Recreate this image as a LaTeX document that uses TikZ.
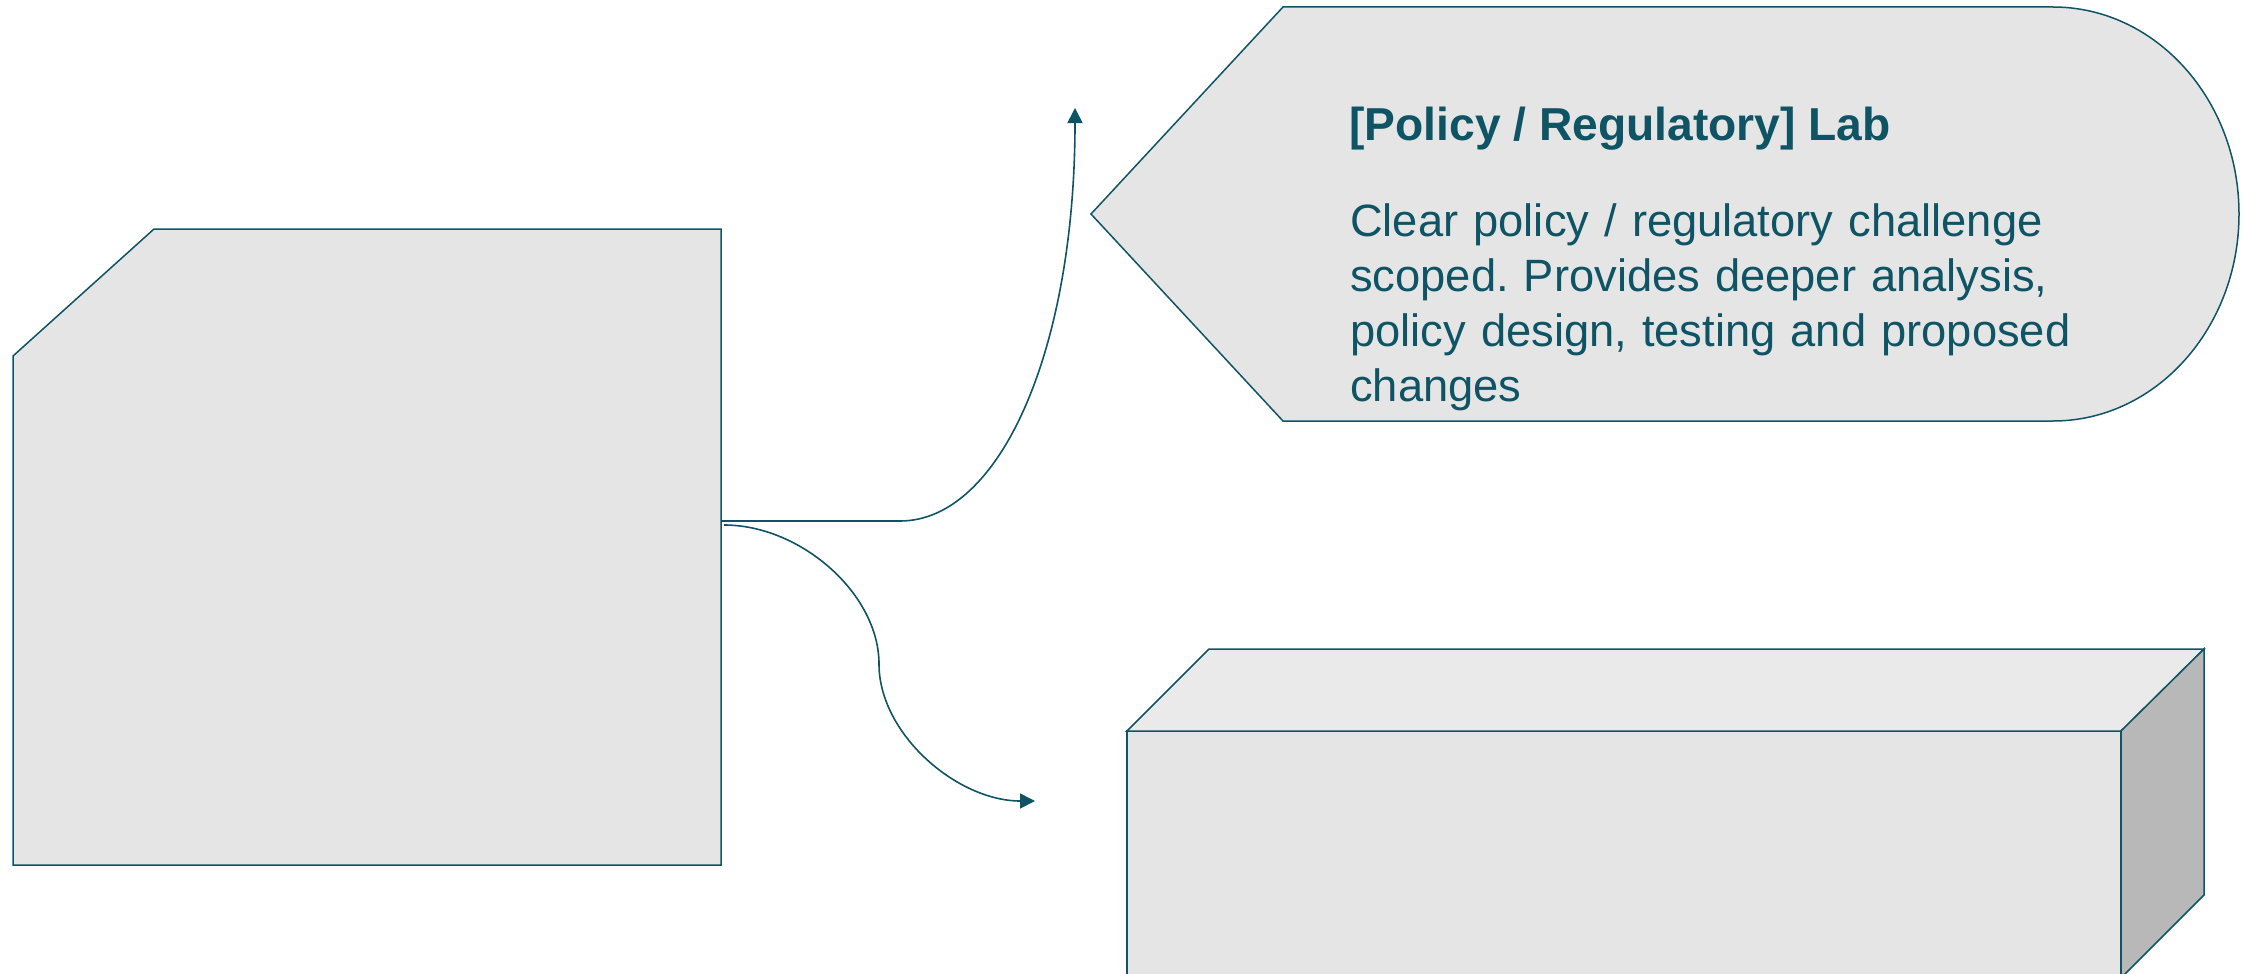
\documentclass[tikz,border=0pt]{standalone}
\usepackage{fontspec}
\setmainfont{Liberation Sans}
\usetikzlibrary{arrows.meta}
\definecolor{tealline}{RGB}{15,84,101}
\definecolor{boxfill}{HTML}{E5E5E5}
\definecolor{topfill}{HTML}{EAEAEA}
\definecolor{sidefill}{HTML}{B8B8B8}
\frenchspacing
\begin{document}
\begin{tikzpicture}[x=1pt,y=-1pt,
  shapeline/.style={draw=tealline, line width=1.5pt, line join=miter},
  conn/.style={draw=tealline, line width=1.6pt, -{Triangle[length=15pt,width=15pt]}},
  labeltext/.style={inner sep=0pt, text=tealline, anchor=base west}]
\useasboundingbox (0,0) rectangle (2247,974);
\begin{scope}
\clip (0,0) rectangle (2247,974);
% left chamfered block
\draw[shapeline, fill=boxfill] (13,356) -- (154,229) -- (721,229) -- (721,865) -- (13,865) -- cycle;
% arrow-shaped callout with rounded right end
\draw[shapeline, fill=boxfill] (1091,214) -- (1283,7) -- (2053,7)
  .. controls (2155.7,7) and (2239,99.7) .. (2239,214)
  .. controls (2239,328.3) and (2155.7,421) .. (2053,421)
  -- (1283,421) -- cycle;
\node[labeltext, font=\bfseries\fontsize{46.2}{55.5}\selectfont] (title) at (1349,140) {[Policy / Regulatory] Lab};
\node[labeltext, text width=820pt, align=left, font=\fontsize{45.3}{55.3}\selectfont] (body) at (1350,236)
  {Clear policy / regulatory challenge\\scoped. Provides deeper analysis,\\policy design, testing and proposed\\changes};
% 3D box
\draw[shapeline, fill=boxfill] (1127,731) rectangle (2121,978);
\draw[shapeline, fill=topfill] (1127,731) -- (1209,649) -- (2204,649) -- (2121,731) -- cycle;
\draw[shapeline, fill=sidefill] (2121,731) -- (2204,649) -- (2204,895) -- (2121,978) -- cycle;
% connectors
\coordinate (upStart) at (722,521);
\coordinate (upBend) at (900,521);
\coordinate (upEnd) at (1075,108);
\draw[conn] (upStart) -- (upBend) .. controls (1000,521) and (1075,350) .. (upEnd);
\coordinate (dnStart) at (724,525);
\coordinate (dnMid) at (879,664);
\coordinate (dnEnd) at (1035,801);
\draw[conn] (dnStart) .. controls (801,525) and (879,594) .. (dnMid) .. controls (879,734) and (957,801) .. (dnEnd);
\end{scope}
\end{tikzpicture}
\end{document}
